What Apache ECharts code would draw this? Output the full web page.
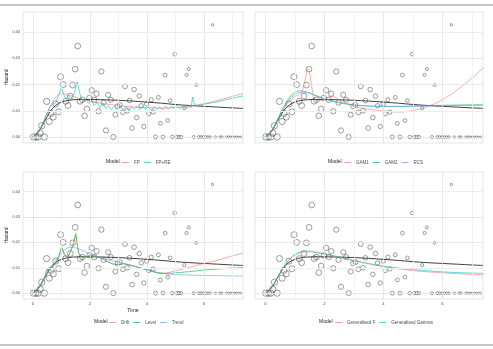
<!DOCTYPE html>
<html>
<head>
<meta charset="utf-8">
<script src="https://cdn.jsdelivr.net/npm/echarts@6/dist/echarts.min.js"></script>
<style>
  html, body { margin: 0; padding: 0; background: #fff; }
  #chart { width: 493px; height: 349px; }
</style>
</head>
<body>
<div id="chart"></div>
<script>
// observed hazard points (same in every panel)
const obsTime = [0.02,0.1,0.18,0.25,0.31,0.4,0.48,0.57,0.63,0.71,0.8,0.9,0.97,1.06,1.15,1.23,1.31,1.39,1.48,1.57,
  1.65,1.73,1.81,1.89,1.98,2.06,2.15,2.23,2.3,2.4,2.48,2.56,2.64,2.73,2.82,2.89,2.97,3.05,3.15,3.23,
  3.31,3.39,3.48,3.55,3.64,3.73,3.8,3.89,3.99,4.06,4.15,4.22,4.3,4.4,4.47,4.56,4.64,4.73,4.81,4.89,
  4.97,5.04,5.12,5.2,5.31,5.39,5.47,5.64,5.73,5.82,5.9,5.98,6.06,6.14,6.22,6.3,6.4,6.56,6.63,6.79,
  6.87,6.94,7.01,7.08,7.15,7.22,7.29];
const obsHazard = [0,0,0,0.0015,0.0043,0,0.0136,0.0059,0.009,0.0076,0.0126,0.0096,0.023,0.02,0.0136,0.012,0.0156,0.0198,0.0259,0.0347,
  0.0136,0.0142,0.0081,0.0107,0.0149,0.0178,0.0142,0.0165,0.0098,0.025,0.0131,0.0025,0.0161,0.0142,0,0.0085,0.0117,0.0122,0.0094,0.0193,
  0.01,0.0139,0.0034,0.0181,0.0074,0.0156,0.0119,0.004,0.0126,0.0089,0.0142,0.0095,0,0.0151,0.0052,0,0.0236,0.0063,0.0139,0,
  0.0316,0,0,0,0.011,0.0237,0.0259,0,0.0198,0,0,0,0,0,0,0.0428,0,0,0,0,
  0,0,0,0,0,0,0];
const atRisk = [86,85,84,83,82,81,80,79,78,77,76,75,74,73,72,71,70,69,68,67,
  66,65,64,63,62,61,60,59,58,57,56,55,54,53,52,51,50,49,48,47,
  46,45,44,43,42,41,40,39,38,37,36,35,33,32,31,30,29,28,27,26,
  25,24,23,22,21,20,19,18,17,16,15,14,14,13,13,12,12,11,11,10,
  10,9,9,8,8,7,7];

// smooth model curves on a common time grid
const timeGrid = [0,0.2,0.4,0.6,0.8,1.0,1.2,1.4,1.6,1.8,2.0,2.5,3.0,3.5,4.0,4.5,5.0,5.5,6.0,6.5,7.0,7.37];
const reference = [0,0.002,0.0058,0.0097,0.0121,0.0133,0.0139,0.0142,0.0143,0.0143,0.0143,0.0142,0.014,0.0137,0.0133,0.0129,0.0124,0.012,0.0117,0.0114,0.0111,0.0109];
const fp = [0,0.002,0.0065,0.0115,0.0152,0.0167,0.0163,0.0155,0.0148,0.0141,0.0136,0.0127,0.012,0.0115,0.0112,0.011,0.0112,0.0118,0.0127,0.014,0.0155,0.0166];
const gam2 = [0,0.002,0.0065,0.011,0.0148,0.017,0.0176,0.0172,0.0163,0.0153,0.0145,0.013,0.0122,0.0118,0.0117,0.0117,0.0118,0.012,0.0121,0.0122,0.0123,0.0123];
const rcs = [0,0.0018,0.006,0.0105,0.014,0.0162,0.017,0.0169,0.0163,0.0155,0.0147,0.0132,0.0123,0.0118,0.0116,0.0116,0.0117,0.0118,0.0119,0.012,0.012,0.0121];
const trend = [0,0.002,0.006,0.0098,0.013,0.016,0.0177,0.018,0.0175,0.0165,0.0153,0.0135,0.0122,0.0108,0.0092,0.0079,0.0073,0.0071,0.007,0.0069,0.0068,0.0067];
const genF = [0,0.002,0.0058,0.0098,0.013,0.015,0.016,0.0163,0.0162,0.0158,0.0153,0.0141,0.0127,0.0115,0.0104,0.0096,0.0089,0.0084,0.008,0.0077,0.0074,0.0072];
const genGamma = [0,0.002,0.006,0.01,0.0133,0.0153,0.0163,0.0166,0.0164,0.016,0.0155,0.0143,0.0129,0.0117,0.0106,0.0099,0.0093,0.0088,0.0084,0.0081,0.0079,0.0078];

// jagged / irregular curves with their own times
const fpreTime = [0,0.2,0.4,0.5,0.6,0.7,0.8,0.9,1.0,1.07,1.15,1.25,1.35,1.45,1.55,1.6,1.68,1.75,1.85,1.95,2.05,2.15,2.25,2.35,2.45,2.55,2.65,2.75,2.85,2.95,
  3.05,3.15,3.25,3.35,3.45,3.55,3.65,3.75,3.85,3.95,4.05,4.15,4.25,4.35,4.45,4.55,4.65,4.75,4.85,4.95,5.05,5.15,5.25,5.35,5.45,5.55,5.6,5.68,5.8,6.0,6.5,7.0,7.37];
const fpre = [0,0.002,0.0065,0.0095,0.0115,0.0125,0.013,0.016,0.019,0.0165,0.0145,0.0158,0.015,0.0165,0.021,0.0216,0.015,0.0138,0.0142,0.0128,0.0138,0.012,0.0132,0.0112,0.0128,0.0108,0.012,0.0104,0.0118,0.0106,
  0.0122,0.0104,0.0118,0.0101,0.0115,0.0105,0.0118,0.0104,0.0116,0.0106,0.0114,0.0102,0.0117,0.0105,0.0115,0.0104,0.0118,0.0106,0.0117,0.011,0.0121,0.0108,0.0118,0.0108,0.0115,0.0112,0.0152,0.0118,0.0121,0.0125,0.0135,0.0148,0.0157];
const gam1Time = [0,0.2,0.4,0.6,0.8,1.0,1.15,1.25,1.35,1.45,1.55,1.65,1.8,2.0,2.25,2.5,3.0,3.5,4.0,4.5,5.0,5.5,6.0,6.5,7.0,7.37];
const gam1 = [0,0.002,0.0062,0.0105,0.0135,0.0155,0.0162,0.0175,0.022,0.0262,0.021,0.0148,0.0138,0.0145,0.0155,0.0142,0.0117,0.0106,0.01,0.0095,0.0101,0.0117,0.0142,0.018,0.0225,0.0263];
const stateTime = [0,0.2,0.4,0.5,0.6,0.7,0.8,0.9,1.0,1.1,1.2,1.3,1.4,1.5,1.6,1.7,1.8,2.0,2.2,2.4,2.6,2.8,3.0,3.2,3.4,3.6,3.8,4.0,4.2,4.4,4.6,4.8,5.0,5.5,6.0,6.5,7.0,7.37];
const level = [0,0.002,0.006,0.0095,0.009,0.0105,0.012,0.014,0.0183,0.0155,0.0138,0.016,0.019,0.0235,0.016,0.0143,0.0142,0.0148,0.0146,0.0138,0.0125,0.0115,0.0112,0.0116,0.011,0.0105,0.0098,0.0092,0.0085,0.0079,0.0077,0.0078,0.008,0.0085,0.0091,0.0095,0.0099,0.01];
const drift = [0,0.002,0.006,0.0095,0.009,0.0105,0.012,0.014,0.0178,0.0153,0.0138,0.0158,0.0185,0.0228,0.0158,0.0143,0.0142,0.0148,0.0146,0.0138,0.0125,0.0115,0.0112,0.0116,0.011,0.0105,0.0098,0.0092,0.0085,0.0079,0.0079,0.0082,0.0088,0.0102,0.0117,0.013,0.0147,0.0158];

const xTicks = [0, 2, 4, 6];
const yTicks = [0, 0.01, 0.02, 0.03, 0.04];
const xGrid = [0, 1, 2, 3, 4, 5, 6, 7];
const yGrid = [0, 0.005, 0.01, 0.015, 0.02, 0.025, 0.03, 0.035, 0.04, 0.045];

const RED = '#F8766D', CYAN = '#00BFC4', GREEN = '#00BA38', BLUE = '#619CFF';
const FONT = 'Liberation Sans';

const pair = (ts, hs) => ts.map((t, i) => [t, hs[i]]);
const points = obsTime.map((t, i) => [t, obsHazard[i], atRisk[i]]);

const grids = [
    { left: 23, top: 12, width: 220, height: 131 },
    { left: 255, top: 12, width: 228, height: 131 },
    { left: 23, top: 172, width: 220, height: 127 },
    { left: 255, top: 172, width: 228, height: 127 }
];

const xAxes = grids.map((g, i) => ({
    type: 'value', gridIndex: i, min: -0.35, max: 7.37,
    axisLine: { show: false },
    axisTick: { show: true, customValues: xTicks, length: 2, lineStyle: { color: '#b3b3b3', width: 0.6 } },
    axisLabel: { show: i >= 2, customValues: xTicks, fontSize: 4.2, color: '#4d4d4d', margin: 3, fontFamily: FONT },
    splitLine: { show: false },
    name: i === 2 ? 'Time' : '', nameLocation: 'middle', nameGap: 9,
    nameTextStyle: { fontSize: 5.2, color: '#222', fontFamily: FONT }
}));

const yAxes = grids.map((g, i) => ({
    type: 'value', gridIndex: i, min: -0.0023, max: 0.0477,
    axisLine: { show: false },
    axisTick: { show: true, customValues: yTicks, length: 2, lineStyle: { color: '#b3b3b3', width: 0.6 } },
    axisLabel: { show: i % 2 === 0, customValues: yTicks, fontSize: 3.8, color: '#4d4d4d', margin: 3,
        fontFamily: FONT, formatter: v => v.toFixed(2) },
    splitLine: { show: false },
    name: i % 2 === 0 ? 'Hazard' : '', nameLocation: 'middle', nameGap: 12, nameRotate: 90,
    nameTextStyle: { fontSize: 5, color: '#222', fontFamily: FONT }
}));

function gridLines(i) {
    const major = '#e2e2e2', minor = '#efefef';
    return {
        type: 'line', xAxisIndex: i, yAxisIndex: i, data: [], silent: true, z: 0,
        markLine: {
            silent: true, symbol: 'none', animation: false, label: { show: false },
            lineStyle: { type: 'solid', width: 0.8 },
            data: xGrid.map(v => ({ xAxis: v, lineStyle: { color: v % 2 === 0 ? major : minor, type: 'solid' } }))
                .concat(yGrid.map((v, k) => ({ yAxis: v, lineStyle: { color: k % 2 === 0 ? major : minor, type: 'solid' } })))
        }
    };
}

function scatter(i) {
    return {
        type: 'scatter', xAxisIndex: i, yAxisIndex: i, data: points, z: 2,
        symbol: 'circle', symbolSize: v => Math.sqrt(v[2]) * 0.7,
        itemStyle: { color: 'rgba(0,0,0,0)', borderColor: '#333', borderWidth: 0.6 }
    };
}

function curve(i, name, data, color, smooth, width) {
    return {
        type: 'line', name: name, xAxisIndex: i, yAxisIndex: i, data: data, z: 3,
        symbol: 'none', showSymbol: false, smooth: smooth ? 0.35 : false,
        lineStyle: { color: color, width: width || 0.6 }, itemStyle: { color: color }
    };
}

const series = [];
for (let i = 0; i < 4; i++) {
    series.push(gridLines(i));
    series.push(scatter(i));
    series.push(curve(i, 'ref' + i, pair(timeGrid, reference), '#2b2b2b', true, 0.9));
}
series.push(curve(0, 'FP', pair(timeGrid, fp), RED, true));
series.push(curve(0, 'FP+RE', pair(fpreTime, fpre), CYAN, false));
series.push(curve(1, 'GAM1', pair(gam1Time, gam1), RED, true));
series.push(curve(1, 'GAM2', pair(timeGrid, gam2), GREEN, true));
series.push(curve(1, 'RCS', pair(timeGrid, rcs), BLUE, true));
series.push(curve(2, 'Drift', pair(stateTime, drift), RED, false));
series.push(curve(2, 'Level', pair(stateTime, level), GREEN, false));
series.push(curve(2, 'Trend', pair(timeGrid, trend), BLUE, true));
series.push(curve(3, 'Generalised F', pair(timeGrid, genF), RED, true));
series.push(curve(3, 'Generalised Gamma', pair(timeGrid, genGamma), CYAN, true));

const legendBase = {
    orient: 'horizontal', icon: 'rect', itemWidth: 7, itemHeight: 0.7, itemGap: 4, padding: 0,
    textStyle: { fontSize: 4.5, color: '#4d4d4d', fontFamily: FONT }
};
const legends = [
    { data: ['FP', 'FP+RE'], left: 122, top: 160 },
    { data: ['GAM1', 'GAM2', 'RCS'], left: 344, top: 160 },
    { data: ['Drift', 'Level', 'Trend'], left: 109, top: 320 },
    { data: ['Generalised F', 'Generalised Gamma'], left: 335, top: 320 }
].map(l => Object.assign({}, legendBase, l));

const modelLabel = (x, y) => ({
    type: 'text', left: x, top: y - 1,
    style: { text: 'Model', fontSize: 5, fill: '#222', fontFamily: FONT }
});

const chart = echarts.init(document.getElementById('chart'), null, { renderer: 'canvas' });
chart.setOption({
    animation: false,
    backgroundColor: '#fff',
    grid: grids.map(g => Object.assign({ show: true, borderColor: '#d4d4d4', borderWidth: 0.6, backgroundColor: '#fff' }, g)),
    xAxis: xAxes,
    yAxis: yAxes,
    legend: legends,
    series: series,
    graphic: [
        { type: 'line', shape: { x1: 0, y1: 5, x2: 493, y2: 5 }, style: { stroke: '#8c8c8c', lineWidth: 1 } },
        { type: 'line', shape: { x1: 0, y1: 345, x2: 493, y2: 345 }, style: { stroke: '#8c8c8c', lineWidth: 1 } },
        modelLabel(106, 160),
        modelLabel(328, 160),
        modelLabel(94, 320),
        modelLabel(319, 320)
    ]
});
</script>
</body>
</html>
